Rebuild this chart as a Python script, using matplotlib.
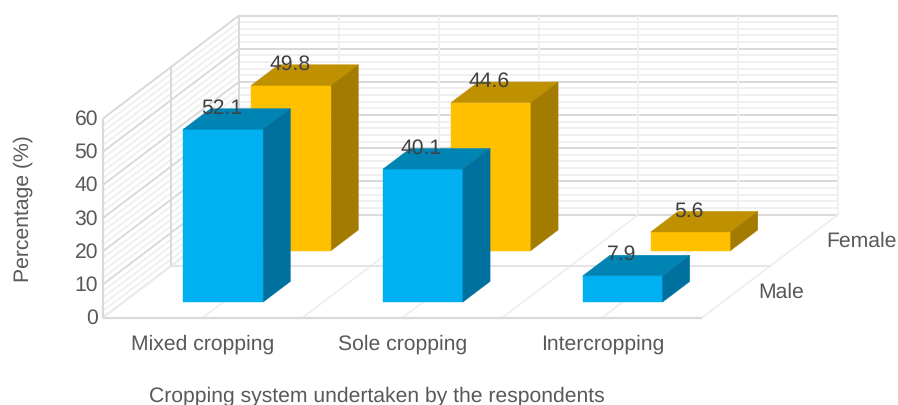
#!/usr/bin/env python
# 3D style clustered columns, excel look, drawn with an oblique projection
import matplotlib
matplotlib.use("Agg")
import matplotlib.pyplot as plt
from matplotlib.patches import Polygon

plt.rcParams['font.family'] = ['Liberation Sans', 'DejaVu Sans']
plt.rcParams['text.hinting'] = 'no_hinting'

# DATA
categories = ["Mixed cropping", "Sole cropping", "Intercropping"]
series_names = ["Male", "Female"]
male = [52.1, 40.1, 7.9]
female = [49.8, 44.6, 5.6]
major_ticks = [0, 10, 20, 30, 40, 50, 60]
minor_ticks = [v for v in range(0, 61, 2) if v % 10 != 0]

ylab = "Percentage (%)"
xlab = "Cropping system undertaken by the respondents"

# GEOMETRY (pixels of the picture)
X0, Y0 = 103.0, 317.5
CAT_W = 199.7
SER_DX, SER_DY = 68.0, -51.5
VAL_H = 199.0 / 60
FS = 15.2

def proj(c, s, v):
	# c = category units, s = series units (depth), v = value
	return (X0 + c * CAT_W + s * SER_DX, Y0 + s * SER_DY - v * VAL_H)

def line(a, b, col, lw=1.5, z=1, ls="-"):
	ax.plot([a[0], b[0]], [a[1], b[1]], color=col, lw=lw, zorder=z, ls=ls, solid_capstyle="butt")

fig = plt.figure(figsize=(8.98, 4.05), dpi=100)
ax = fig.add_axes([0, 0, 1, 1])
ax.set_xlim(0, 898)
ax.set_ylim(405, 0)
ax.axis("off")

MAJ = "#D9D9D9"
MIN = "#F0F0F0"
NC, NS = len(categories), len(series_names)

# WALLS
for v in minor_ticks:
	line(proj(0, 0, v), proj(0, NS, v), MIN, 1.4, 1)
	line(proj(0, NS, v), proj(NC, NS, v), MIN, 1.4, 1)
for v in major_ticks:
	line(proj(0, 0, v), proj(0, NS, v), MAJ, 1.4, 2)
	line(proj(0, NS, v), proj(NC, NS, v), MAJ, 1.4, 2)
for i in range(2 * NC + 1):
	c = i / 2
	line(proj(c, NS, 0), proj(c, NS, 60), MIN if i else MAJ, 1.4, 2)
	line(proj(c, 0, 0), proj(c, NS, 0), "#EDEDED", 1.2, 2)
line(proj(0, 1, 0), proj(0, 1, 60), MAJ, 1.4, 2)
line(proj(0, 0, 0), proj(0, 0, 60), MAJ, 1.6, 3)

# FLOOR
line(proj(0, 0, 0), proj(NC, 0, 0), MAJ, 1.6, 3)
line(proj(0, 1, 0), proj(NC, 1, 0), "#E4E4E4", 1.4, 3)

# BARS
def bar(c, s, v, front, top, side, txt):
	c0, c1 = c + 0.3, c + 0.7
	s0, s1 = s + 0.3, s + 0.7
	z = 10 - s
	ax.add_patch(Polygon([proj(c0, s0, 0), proj(c1, s0, 0), proj(c1, s0, v), proj(c0, s0, v)], fc=front, ec=front, lw=0.3, zorder=z))
	ax.add_patch(Polygon([proj(c0, s0, v), proj(c1, s0, v), proj(c1, s1, v), proj(c0, s1, v)], fc=top, ec=top, lw=0.3, zorder=z))
	ax.add_patch(Polygon([proj(c1, s0, 0), proj(c1, s1, 0), proj(c1, s1, v), proj(c1, s0, v)], fc=side, ec=side, lw=0.3, zorder=z))
	x, y = proj(c + 0.5, s0, v)
	ax.text(x - 1.5, y - 21, txt, ha="center", va="center", fontsize=FS, color="#404040", zorder=20)

for i in range(NC):
	bar(i, 1, female[i], "#FFC000", "#BF9000", "#A37B00", str(female[i]))
for i in range(NC):
	bar(i, 0, male[i], "#00B0F0", "#0084B4", "#00709F", str(male[i]))

# LABELS
for v in major_ticks:
	x, y = proj(0, 0, v)
	ax.text(x - 5, y + 1, str(v), ha="right", va="center", fontsize=FS, color="#595959")
for i in range(NC):
	x, y = proj(i + 0.5, 0, 0)
	ax.text(x, y + 27, categories[i], ha="center", va="center", fontsize=FS, color="#595959")
for s in range(NS):
	x, y = proj(NC, s + 0.5, 0)
	ax.text(x + 22, y + 1, series_names[s], ha="left", va="center", fontsize=FS, color="#595959")

ax.text(23, 209, ylab, rotation=90, ha="center", va="center", fontsize=FS, color="#595959")
ax.text(377, 396, xlab, ha="center", va="center", fontsize=FS, color="#595959")

fig.savefig("out.png", dpi=100)
